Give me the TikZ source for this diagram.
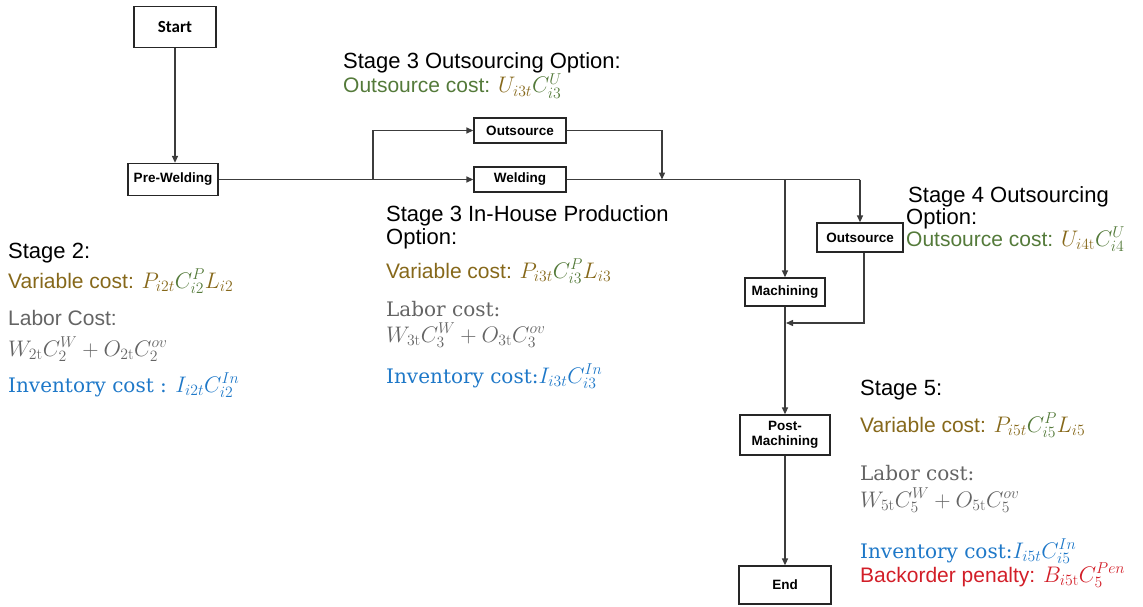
\RequirePackage{fix-cm}
\documentclass[tikz,border=0pt]{standalone}
\usepackage{fontspec}
\usetikzlibrary{arrows.meta}
\newfontfamily\arialf{Liberation Sans}
\newfontfamily\serf{DejaVu Serif}
\newfontfamily\calf{Carlito}
\definecolor{costgold}{RGB}{134,104,26}
\definecolor{costgreen}{RGB}{84,122,58}
\definecolor{laborgrey}{RGB}{100,100,100}
\definecolor{invblue}{RGB}{30,120,200}
\definecolor{penred}{RGB}{210,30,40}
\definecolor{linegrey}{RGB}{60,60,60}
\newcommand\mth[1]{{\fontsize{22.5}{26}\selectfont$#1$}}
\tikzset{
  stagebox/.style={draw=black!85, line width=1.3pt, fill=white, inner sep=0pt, align=center,
    font=\arialf\bfseries\fontsize{13.5}{15}\selectfont},
  flow/.style={draw=linegrey, line width=1.4pt, -{Triangle[length=7pt,width=6pt]}},
  plain/.style={draw=linegrey, line width=1.4pt},
  txt/.style={anchor=base west, inner sep=0pt},
  head/.style={txt, font=\arialf\fontsize{22}{24}\selectfont},
  cost/.style={txt, font=\arialf\fontsize{21}{24}\selectfont},
  sercost/.style={txt, font=\serf\fontsize{20}{24}\selectfont},
}
\begin{document}
\begin{tikzpicture}[x=1pt,y=-1pt]
\useasboundingbox (0,0) rectangle (1143,607);

% process boxes
\node[stagebox, minimum width=82pt, minimum height=41pt, font=\calf\bfseries\fontsize{17}{18}\selectfont] (start) at (175,27) {Start};
\node[stagebox, minimum width=90pt, minimum height=32pt] (prew) at (173,179.5) {Pre-Welding};
\node[stagebox, minimum width=92pt, minimum height=25pt] (out3) at (520,130.5) {Outsource};
\node[stagebox, minimum width=92pt, minimum height=25pt] (weld) at (520,179.5) {Welding};
\node[stagebox, minimum width=86pt, minimum height=29pt] (out4) at (860,237.5) {Outsource};
\node[stagebox, minimum width=80pt, minimum height=28pt] (mach) at (785,292) {Machining};
\node[stagebox, minimum width=90pt, minimum height=40pt, font=\arialf\bfseries\fontsize{13.5}{15}\selectfont] (post) at (785,435) {Post-\\Machining};
\node[stagebox, minimum width=92pt, minimum height=38pt] (end) at (785,585) {End};

% junction points on the main line
\coordinate (b1) at (373,179.5);
\coordinate (j1) at (662,179.5);
\coordinate (j3) at (785,179.5);
\coordinate (j2) at (860,179.5);
\coordinate (j4) at (786,323);

% connectors
\draw[flow] (start.south -| 175,0) -- (prew.north -| 175,0);
\draw[flow] (prew.east) -- (weld.west);
\draw[flow] (b1) |- (out3.west);
\draw[flow] (out3.east) -| (j1);
\draw[plain] (weld.east) -- (j2);
\draw[flow] (j3) -- (mach.north);
\draw[flow] (j2) -- (out4.north);
\draw[flow] ([xshift=4pt]out4.south) |- (j4);
\draw[flow] (mach.south) -- (post.north);
\draw[flow] (post.south) -- (end.north);

% stage 2
\node[head] (s2h) at (8,258) {Stage 2:};
\node[cost, text=costgold] (s2v) at (8,288) {Variable cost: \mth{\color{costgold}P_{i2t}\color{costgreen}C^{P}_{i2}\color{costgold}L_{i2}}};
\node[cost, text=laborgrey] (s2l) at (8,325) {Labor Cost:};
\node[txt, text=laborgrey] (s2f) at (8,356) {\mth{W_{2\mathrm{t}}C^{W}_{2}+O_{2\mathrm{t}}C^{ov}_{2}}};
\node[sercost, text=invblue] (s2i) at (8,392) {Inventory cost : \mth{I_{i2t}C^{In}_{i2}}};

% stage 3 outsourcing
\node[head] (s3oh) at (343,69) {Stage 3 Outsourcing Option:};
\node[cost, text=costgreen] (s3oc) at (343,93) {Outsource cost: \mth{\color{costgold}U_{i3t}\color{costgreen}C^{U}_{i3}}};

% stage 3 in-house
\node[head] (s3h1) at (386,221) {Stage 3 In-House Production};
\node[head] (s3h2) at (386,244) {Option:};
\node[cost, text=costgold] (s3v) at (386,278) {Variable cost: \mth{\color{costgold}P_{i3t}\color{costgreen}C^{P}_{i3}\color{costgold}L_{i3}}};
\node[sercost, text=laborgrey] (s3l) at (386,316) {Labor cost:};
\node[txt, text=laborgrey] (s3f) at (386,342) {\mth{W_{3\mathrm{t}}C^{W}_{3}+O_{3\mathrm{t}}C^{ov}_{3}}};
\node[sercost, text=invblue] (s3i) at (386,383) {Inventory cost:\mth{I_{i3t}C^{In}_{i3}}};

% stage 4 outsourcing
\node[head] (s4h1) at (908,202) {Stage 4 Outsourcing};
\node[head] (s4h2) at (906,224) {Option:};
\node[cost, text=costgreen] (s4c) at (906,246) {Outsource cost: \mth{\color{costgold}U_{i4\mathrm{t}}\color{costgreen}C^{U}_{i4}}};

% stage 5
\node[head] (s5h) at (860,395) {Stage 5:};
\node[cost, text=costgold] (s5v) at (860,432) {Variable cost: \mth{\color{costgold}P_{i5t}\color{costgreen}C^{P}_{i5}\color{costgold}L_{i5}}};
\node[sercost, text=laborgrey] (s5l) at (860,480) {Labor cost:};
\node[txt, text=laborgrey] (s5f) at (860,507) {\mth{W_{5\mathrm{t}}C^{W}_{5}+O_{5\mathrm{t}}C^{ov}_{5}}};
\node[sercost, text=invblue] (s5i) at (860,558) {Inventory cost:\mth{I_{i5t}C^{In}_{i5}}};
\node[cost, text=penred] (s5b) at (860,582) {Backorder penalty: \mth{B_{i5\mathrm{t}}C^{Pen}_{5}}};
\end{tikzpicture}
\end{document}
